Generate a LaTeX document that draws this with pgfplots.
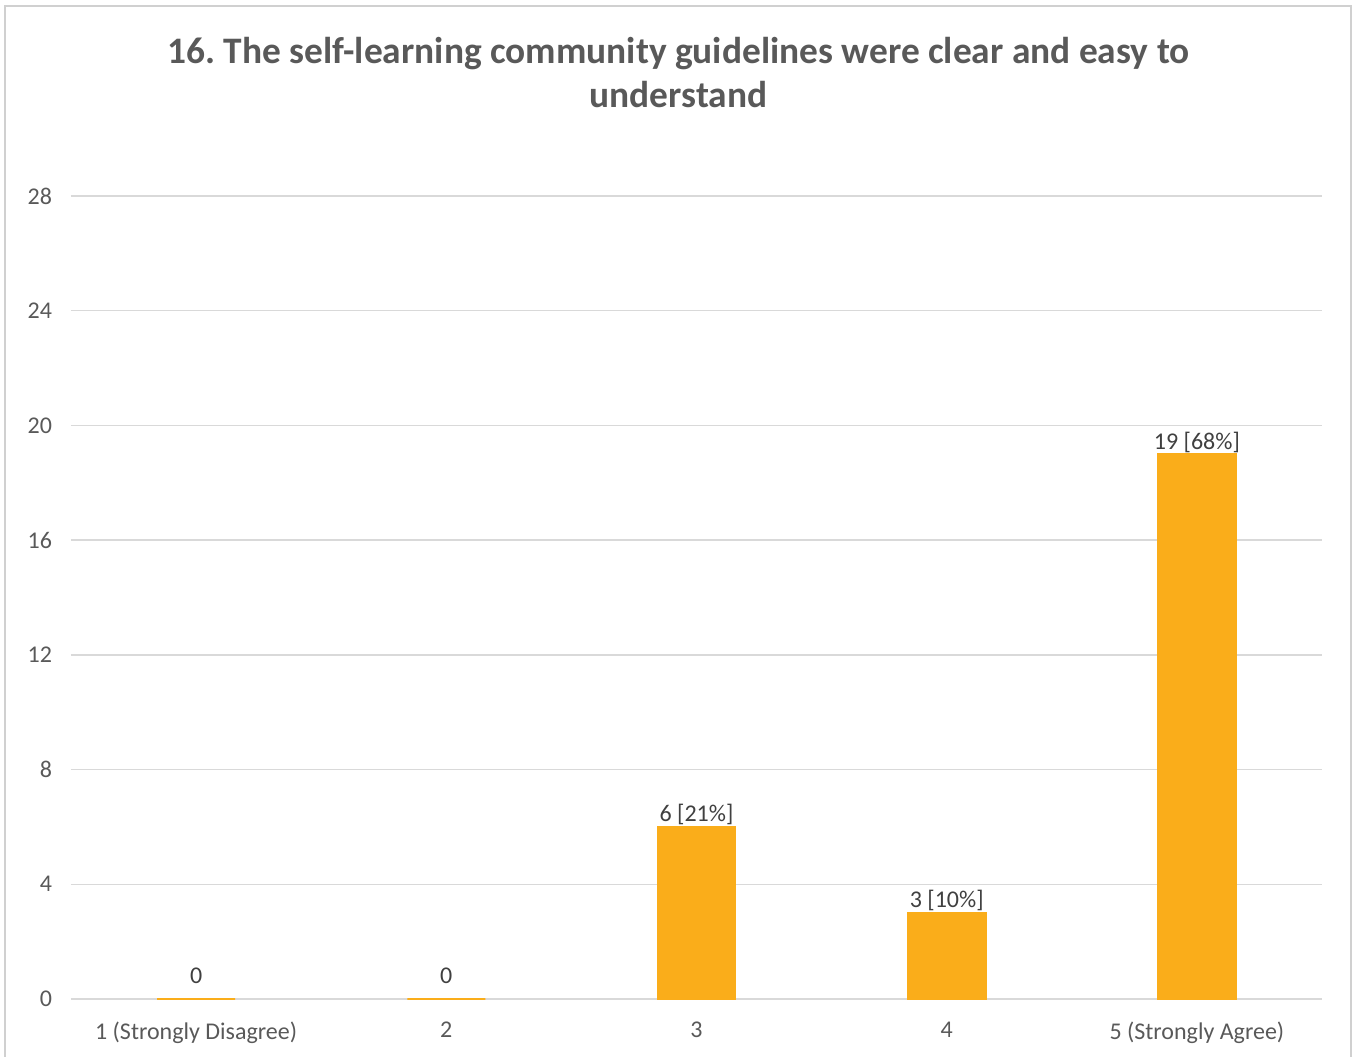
\documentclass[border=0pt]{standalone}
\usepackage{fontspec}
\setmainfont{Carlito}
\usepackage{pgfplots}
\pgfplotsset{compat=1.18}
\definecolor{barcol}{HTML}{FAAD1A}
\definecolor{gridcol}{HTML}{D9D9D9}
\definecolor{ticktext}{HTML}{595959}
\definecolor{labeltext}{HTML}{404040}
\definecolor{framecol}{HTML}{D0D0D0}
\frenchspacing
\begin{document}
\begin{tikzpicture}
\useasboundingbox (0,0) rectangle (678.5bp,528.5bp);
\draw[framecol, line width=0.6bp] (2.5bp,-2bp) -- (2.5bp,525.5bp) -- (675.5bp,525.5bp) -- (675.5bp,-2bp);
\node[font=\fontsize{18.7bp}{22bp}\selectfont\bfseries, text=ticktext, align=center]
  at (339.25bp,492bp) {16. The self-learning community guidelines were clear and easy to\\understand};
\begin{axis}[
    at={(35.5bp,29bp)}, anchor=south west,
    scale only axis,
    width=625.5bp, height=401.5bp,
    xmin=-0.5, xmax=4.5,
    ymin=0, ymax=28,
    ytick={0,4,...,28},
    xtick={0,1,2,3,4},
    xticklabels={1 (Strongly Disagree),2,3,4,5 (Strongly Agree)},
    /pgf/number format/assume math mode=true,
    axis line style={draw=none},
    tick pos=left,
    ymajorgrids,
    grid style={gridcol, line width=0.75bp},
    major tick length=0pt,
    tick label style={font=\fontsize{12bp}{14bp}\selectfont, text=ticktext},
    xticklabel style={yshift=-8bp},
    yticklabel style={xshift=-6bp},
    clip=false,
]
\addplot[ybar, bar width=39bp, fill=barcol, draw=barcol, line width=0.8bp,
    point meta=explicit symbolic,
    nodes near coords,
    visualization depends on=y \as \rawy,
    every node near coord/.append style={font=\fontsize{12bp}{14bp}\selectfont, text=labeltext, inner sep=1.5bp,
        yshift={ifthenelse(\rawy==0,6bp,-1bp)}},
] table[meta=lab] {
x y lab
0 0 0
1 0 0
2 6 {6 [21\%]}
3 3 {3 [10\%]}
4 19 {19 [68\%]}
};
\end{axis}
\end{tikzpicture}
\end{document}
